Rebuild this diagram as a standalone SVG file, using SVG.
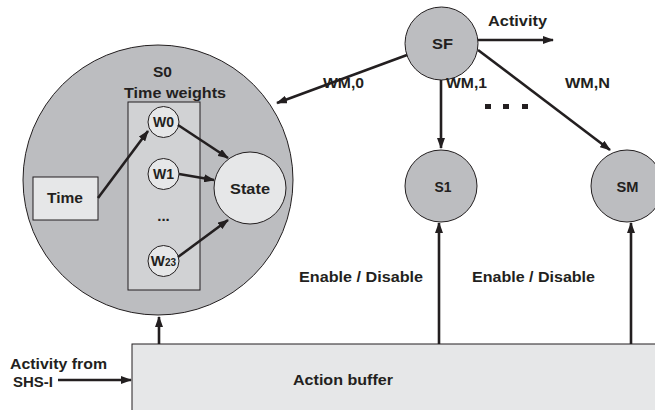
<svg xmlns="http://www.w3.org/2000/svg" width="655" height="410" viewBox="0 0 655 410">
<defs>
<marker id="ah" markerWidth="11" markerHeight="8" refX="10" refY="4" orient="auto" markerUnits="userSpaceOnUse">
<path d="M0,0 L11,4 L0,8 Z" fill="#231f20"/>
</marker>
</defs>
<style>
text{font-family:"Liberation Sans",Arial,sans-serif;font-weight:bold;fill:#231f20;font-size:15px;}
.node{fill:#bcbdc0;stroke:#231f20;stroke-width:1;}
.light{fill:#e6e7e8;stroke:#231f20;stroke-width:1;}
.conn line{stroke:#231f20;stroke-width:2.6;marker-end:url(#ah);}
.w{font-size:14px;}
</style>
<rect width="655" height="410" fill="#fff"/>
<g id="S0">
<circle class="node" cx="158" cy="180" r="135"/>
<rect x="128" y="102" width="72" height="188" fill="#d1d2d4" stroke="#231f20" stroke-width="1"/>
<text x="162.5" y="77" text-anchor="middle" textLength="19" lengthAdjust="spacingAndGlyphs">S0</text>
<text x="175" y="98" text-anchor="middle" textLength="102" lengthAdjust="spacingAndGlyphs">Time weights</text>
</g>
<g id="Time">
<rect class="light" x="33" y="177" width="65" height="43"/>
<text x="65" y="203" text-anchor="middle" textLength="36" lengthAdjust="spacingAndGlyphs">Time</text>
</g>
<g id="W0">
<circle class="light" cx="163.5" cy="122" r="15.5"/>
<text x="163.5" y="127" class="w" text-anchor="middle">W0</text>
</g>
<g id="W1">
<circle class="light" cx="163.5" cy="174" r="15.5"/>
<text x="163.5" y="179" class="w" text-anchor="middle">W1</text>
</g>
<g id="dots">
<text x="163.5" y="221" font-size="12" text-anchor="middle">...</text>
</g>
<g id="W23">
<circle class="light" cx="163.5" cy="261" r="15.5"/>
<text x="163.5" y="266" font-size="12" text-anchor="middle">W<tspan font-size="10">23</tspan></text>
</g>
<g id="State">
<circle class="light" cx="250" cy="188" r="36"/>
<text x="250" y="194" text-anchor="middle" textLength="40" lengthAdjust="spacingAndGlyphs">State</text>
</g>
<g id="SF">
<circle class="node" cx="441.5" cy="43.5" r="36.5"/>
<text x="442.5" y="49" text-anchor="middle" textLength="21" lengthAdjust="spacingAndGlyphs">SF</text>
</g>
<g id="S1">
<circle class="node" cx="441" cy="186" r="36"/>
<text x="443" y="192" text-anchor="middle" textLength="17" lengthAdjust="spacingAndGlyphs">S1</text>
</g>
<g id="SM">
<circle class="node" cx="627" cy="186" r="36"/>
<text x="627.5" y="192" text-anchor="middle" textLength="22" lengthAdjust="spacingAndGlyphs">SM</text>
</g>
<g id="ActionBuffer">
<rect class="light" x="132" y="344" width="540" height="80"/>
<text x="343" y="385" text-anchor="middle" textLength="100" lengthAdjust="spacingAndGlyphs">Action buffer</text>
</g>
<g class="conn" id="connectors">
<line x1="98" y1="198" x2="148" y2="131"/>
<line x1="178" y1="125" x2="228" y2="158"/>
<line x1="179" y1="174" x2="214" y2="180"/>
<line x1="178" y1="257" x2="228" y2="220"/>
<line x1="478" y1="40" x2="553" y2="40"/>
<line x1="407" y1="55" x2="277" y2="103"/>
<line x1="441" y1="80" x2="441" y2="148"/>
<line x1="478" y1="50" x2="610" y2="150"/>
<line x1="159" y1="344" x2="159" y2="317"/>
<line x1="439" y1="344" x2="439" y2="223"/>
<line x1="631" y1="344" x2="631" y2="223"/>
<line x1="58" y1="380" x2="131" y2="380"/>
</g>
<g id="labels">
<text x="517.5" y="26" text-anchor="middle" textLength="59" lengthAdjust="spacingAndGlyphs">Activity</text>
<text x="343.5" y="88" text-anchor="middle" textLength="41" lengthAdjust="spacingAndGlyphs">WM,0</text>
<text x="466.5" y="88" text-anchor="middle" textLength="41" lengthAdjust="spacingAndGlyphs">WM,1</text>
<text x="587.5" y="88" text-anchor="middle" textLength="45" lengthAdjust="spacingAndGlyphs">WM,N</text>
<rect x="485" y="104" width="6" height="5" fill="#231f20"/>
<rect x="503" y="104" width="6" height="5" fill="#231f20"/>
<rect x="522" y="104" width="6" height="5" fill="#231f20"/>
<text x="361" y="282" text-anchor="middle" textLength="124" lengthAdjust="spacingAndGlyphs">Enable / Disable</text>
<text x="533.5" y="282" text-anchor="middle" textLength="123" lengthAdjust="spacingAndGlyphs">Enable / Disable</text>
<text x="10" y="369" textLength="97" lengthAdjust="spacingAndGlyphs">Activity from</text>
<text x="13" y="387" textLength="40" lengthAdjust="spacingAndGlyphs">SHS-I</text>
</g>
</svg>
